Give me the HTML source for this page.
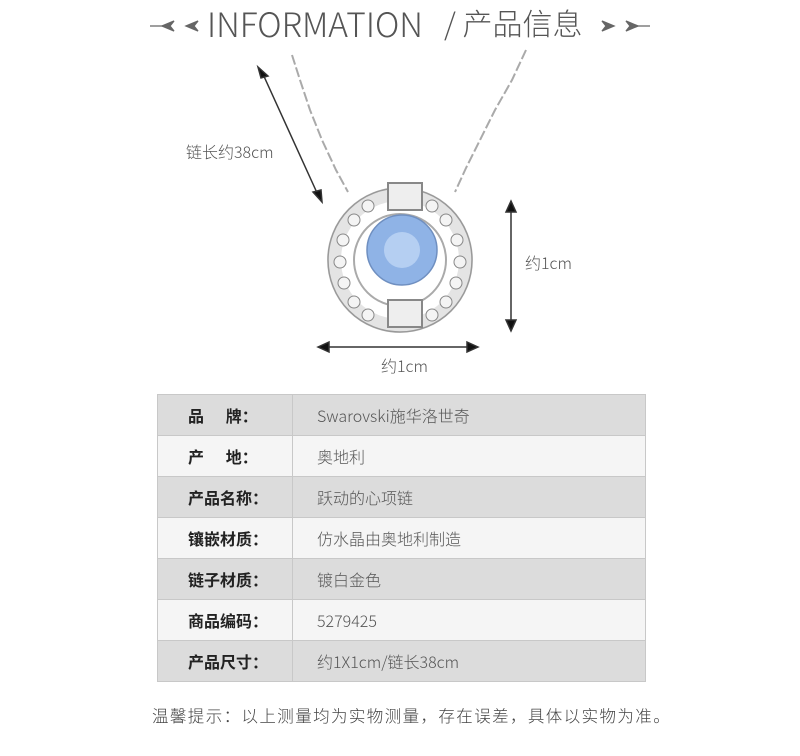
<!DOCTYPE html>
<html><head><meta charset="utf-8"><style>
body{margin:0;background:#fff;width:800px;height:756px;position:relative;overflow:hidden;font-family:"Noto Sans CJK SC","Liberation Sans",sans-serif;}
.t{position:absolute;color:#555;line-height:1.2;white-space:nowrap;}
table{position:absolute;left:157px;top:394px;width:489px;border-collapse:collapse;}
td{border:1px solid #c8c8c8;height:40px;padding:0;font-size:16px;color:#555;line-height:20px;}
td.k{width:135px;font-weight:bold;color:#222;padding-left:30px;box-sizing:border-box;}
td.v{padding-left:24px;font-weight:300;}
tr:nth-child(odd) td{background:#dcdcdc;}
tr:nth-child(even) td{background:#f5f5f5;}
</style></head><body>
<svg width="800" height="390" style="position:absolute;left:0;top:0">
<g stroke="#666" stroke-width="1.3" fill="#666">
<line x1="150" y1="26" x2="170" y2="26"/><path d="M162 26 L174 21 L170 26 L174 31Z"/><path d="M186 26 L198 21 L194 26 L198 31Z"/>
<line x1="630" y1="26" x2="650" y2="26"/><path d="M638 26 L626 21 L630 26 L626 31Z"/><path d="M614 26 L602 21 L606 26 L602 31Z"/>
</g>
<g stroke="#aaa" stroke-width="2" fill="none">
<path d="M292 55 L300 80 L310 110 L322 140 L336 170 L348 192" stroke-dasharray="10 3"/>
<path d="M526 50 L512 80 L495 110 L480 140 L466 168 L455 192" stroke-dasharray="10 3"/>
</g>
<circle cx="400" cy="260" r="66" fill="none" stroke="#e4e4e4" stroke-width="14"/>
<circle cx="400" cy="260" r="72" fill="none" stroke="#999" stroke-width="1.5"/>
<circle cx="400" cy="260" r="46" fill="none" stroke="#aaa" stroke-width="2"/>
<g fill="#f4f4f4" stroke="#888" stroke-width="1">
<circle cx="343" cy="240" r="6"/><circle cx="340" cy="262" r="6"/><circle cx="344" cy="283" r="6"/><circle cx="354" cy="302" r="6"/><circle cx="368" cy="315" r="6"/><circle cx="354" cy="220" r="6"/><circle cx="368" cy="206" r="6"/>
<circle cx="457" cy="240" r="6"/><circle cx="460" cy="262" r="6"/><circle cx="456" cy="283" r="6"/><circle cx="446" cy="302" r="6"/><circle cx="432" cy="315" r="6"/><circle cx="446" cy="220" r="6"/><circle cx="432" cy="206" r="6"/>
</g>
<rect x="388" y="183" width="34" height="27" fill="#eee" stroke="#888" stroke-width="2"/>
<rect x="388" y="300" width="34" height="27" fill="#eee" stroke="#888" stroke-width="2"/>
<circle cx="402" cy="250" r="35" fill="#8fb3e6" stroke="#6f8fc0" stroke-width="1.5"/>
<circle cx="402" cy="250" r="18" fill="#b5cff2"/>
<g stroke="#333" stroke-width="1.5" fill="#111">
<line x1="262" y1="72" x2="318" y2="195"/><path d="M258 67 L268 76 L261 78Z"/><path d="M322 202 L313 192 L321 190Z"/>
<line x1="511" y1="208" x2="511" y2="325"/><path d="M511 201 L506 212 L516 212Z"/><path d="M511 331 L506 320 L516 320Z"/>
<line x1="324" y1="347" x2="472" y2="347"/><path d="M318 347 L329 342 L329 352Z"/><path d="M478 347 L467 342 L467 352Z"/>
</g>
</svg>
<div class="t" style="left:207px;top:3px;font-size:33.5px;font-weight:300;">INFORMATION</div>
<div class="t" style="left:444px;top:4px;font-size:30px;font-weight:300;">/ 产品信息</div>
<div class="t" style="left:186px;top:142px;font-size:16px;font-weight:300">链长约38cm</div>
<div class="t" style="left:525px;top:253px;font-size:16px;font-weight:300">约1cm</div>
<div class="t" style="left:381px;top:356px;font-size:16px;font-weight:300">约1cm</div>
<table>
<tr><td class="k">品&nbsp;&nbsp;&nbsp;&nbsp;&nbsp;&nbsp;牌：</td><td class="v">Swarovski施华洛世奇</td></tr>
<tr><td class="k">产&nbsp;&nbsp;&nbsp;&nbsp;&nbsp;&nbsp;地：</td><td class="v">奥地利</td></tr>
<tr><td class="k">产品名称：</td><td class="v">跃动的心项链</td></tr>
<tr><td class="k">镶嵌材质：</td><td class="v">仿水晶由奥地利制造</td></tr>
<tr><td class="k">链子材质：</td><td class="v">镀白金色</td></tr>
<tr><td class="k">商品编码：</td><td class="v">5279425</td></tr>
<tr><td class="k">产品尺寸：</td><td class="v">约1X1cm/链长38cm</td></tr>
</table>
<div class="t" style="left:152px;top:706px;font-size:16.5px;color:#444;font-weight:300;letter-spacing:1.4px">温馨提示：以上测量均为实物测量，存在误差，具体以实物为准。</div>
</body></html>
